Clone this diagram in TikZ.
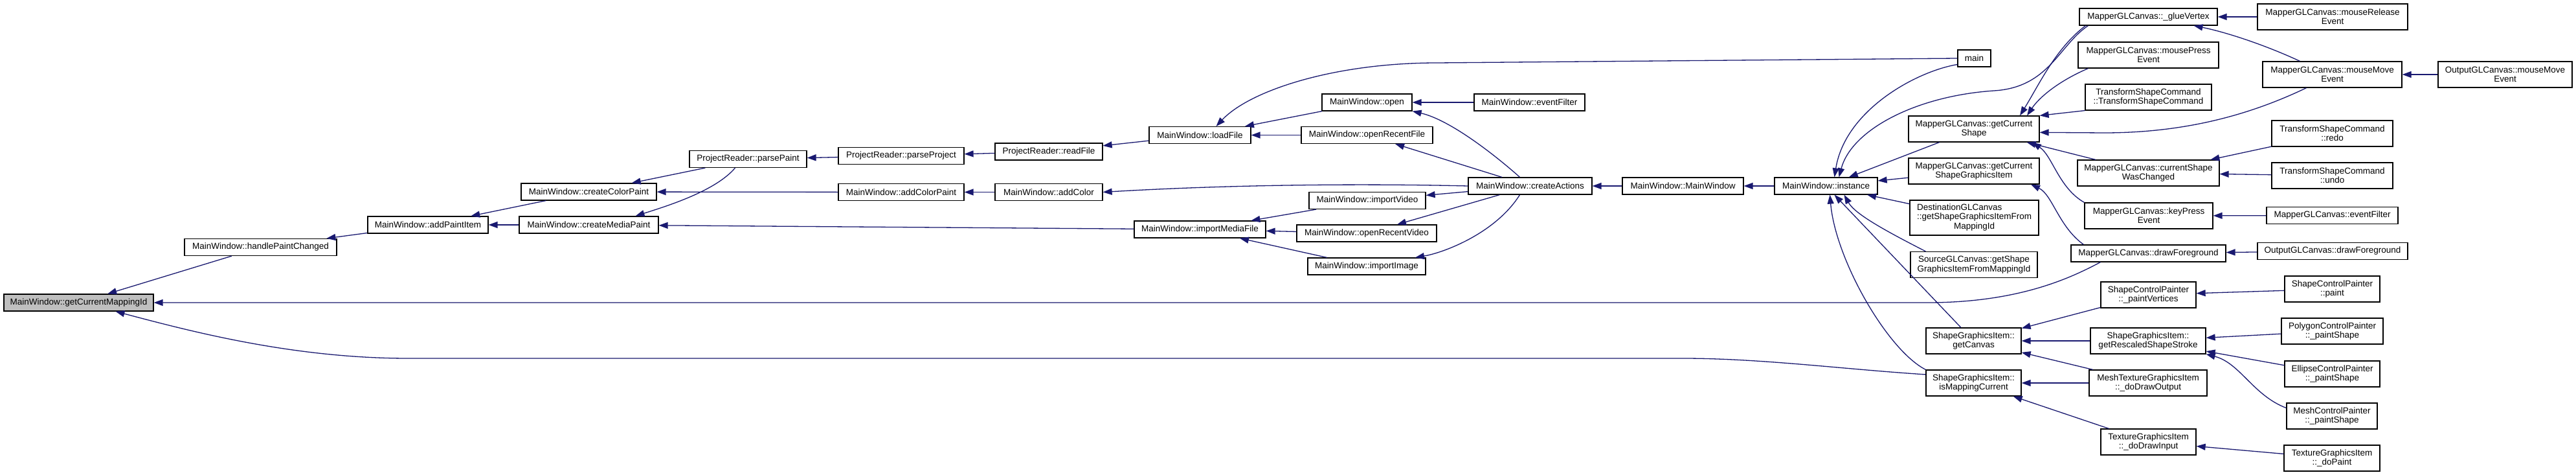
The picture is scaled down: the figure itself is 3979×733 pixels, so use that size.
\documentclass[tikz,border=0pt]{standalone}
\usepackage{fontspec}
\setmainfont{Liberation Sans}
\usetikzlibrary{arrows.meta}
\definecolor{edgeblue}{HTML}{191970}
\definecolor{focusgray}{HTML}{BFBFBF}
\begin{document}
\begin{tikzpicture}[x=1pt,y=-1pt,
  fn/.style={draw=black, fill=white, line width=1.2pt, inner sep=1pt, align=center, font=\fontsize{13.5}{14.3}\selectfont},
  one/.style={minimum height=26pt},
  two/.style={minimum height=40pt},
  call/.style={draw=edgeblue, line width=1.3pt, -{Triangle[length=14pt,width=10pt]}},
]
\fill[white] (0,0) rectangle (3979,733);
\useasboundingbox (0,0) rectangle (3979,733);

% nodes
\node[fn,one,minimum width=231pt,fill=focusgray] (gcmi) at (121.5,467) {MainWindow::getCurrentMappingId};
\node[fn,one,minimum width=235pt] (hpc) at (402.5,381.5) {MainWindow::handlePaintChanged};
\node[fn,one,minimum width=186pt] (api) at (661,347) {MainWindow::addPaintItem};
\node[fn,one,minimum width=209pt] (ccp) at (909.5,296) {MainWindow::createColorPaint};
\node[fn,one,minimum width=215pt] (cmp) at (909.5,347) {MainWindow::createMediaPaint};
\node[fn,one,minimum width=181pt] (ppaint) at (1155.5,245.5) {ProjectReader::parsePaint};
\node[fn,one,minimum width=194pt] (pproj) at (1392,240.5) {ProjectReader::parseProject};
\node[fn,one,minimum width=166pt] (rfile) at (1620,234) {ProjectReader::readFile};
\node[fn,one,minimum width=157pt] (lfile) at (1853.5,208.5) {MainWindow::loadFile};
\node[fn,one,minimum width=139pt] (open) at (2111.5,158) {MainWindow::open};
\node[fn,one,minimum width=203pt] (orf) at (2111.5,208.5) {MainWindow::openRecentFile};
\node[fn,one,minimum width=194pt] (acp) at (1392,296.5) {MainWindow::addColorPaint};
\node[fn,one,minimum width=166pt] (acol) at (1620,296.5) {MainWindow::addColor};
\node[fn,one,minimum width=180pt] (ivid) at (2112,309.5) {MainWindow::importVideo};
\node[fn,one,minimum width=203pt] (imf) at (1853.5,354) {MainWindow::importMediaFile};
\node[fn,one,minimum width=216pt] (orv) at (2111,360) {MainWindow::openRecentVideo};
\node[fn,one,minimum width=182pt] (iimg) at (2111,411) {MainWindow::importImage};
\node[fn,one,minimum width=171pt] (mwef) at (2362.5,158) {MainWindow::eventFilter};
\node[fn,one,minimum width=191pt] (cact) at (2363.5,287) {MainWindow::createActions};
\node[fn,one,minimum width=187pt] (mwmw) at (2599.5,287) {MainWindow::MainWindow};
\node[fn,one,minimum width=159pt] (inst) at (2820.5,287) {MainWindow::instance};
\node[fn,one,minimum width=51pt] (main) at (3049.5,90) {main};
\node[fn,two,minimum width=202pt] (gcs) at (3049,199) {MapperGLCanvas::getCurrent\\Shape};
\node[fn,two,minimum width=202pt] (gcsgi) at (3049,264) {MapperGLCanvas::getCurrent\\ShapeGraphicsItem};
\node[fn,minimum height=54pt,minimum width=199pt] (dgc) at (3049.5,336) {\begin{tabular}{@{}l@{}}DestinationGLCanvas\\::getShapeGraphicsItemFrom\\\multicolumn{1}{@{}c@{}}{MappingId}\end{tabular}};
\node[fn,two,minimum width=196pt] (sgc) at (3049,408.5) {SourceGLCanvas::getShape\\GraphicsItemFromMappingId};
\node[fn,two,minimum width=147pt] (gcan) at (3048.5,526) {ShapeGraphicsItem::\\getCanvas};
\node[fn,two,minimum width=147pt] (imc) at (3048.5,591) {ShapeGraphicsItem::\\isMappingCurrent};
\node[fn,one,minimum width=213pt] (glue) at (3318.5,26) {MapperGLCanvas::\_glueVertex};
\node[fn,two,minimum width=232pt] (mrel) at (3603,26) {MapperGLCanvas::mouseRelease\\Event};
\node[fn,two,minimum width=217pt] (mpress) at (3318.5,85) {MapperGLCanvas::mousePress\\Event};
\node[fn,two,minimum width=195pt] (tsc) at (3318.5,150) {TransformShapeCommand\\::TransformShapeCommand};
\node[fn,two,minimum width=215pt] (mmove) at (3602.5,115) {MapperGLCanvas::mouseMove\\Event};
\node[fn,two,minimum width=207pt] (omove) at (3869.5,115) {OutputGLCanvas::mouseMove\\Event};
\node[fn,two,minimum width=187pt] (redo) at (3602.5,206) {TransformShapeCommand\\::redo};
\node[fn,two,minimum width=219pt] (csw) at (3318.5,267) {MapperGLCanvas::currentShape\\WasChanged};
\node[fn,two,minimum width=187pt] (undo) at (3602.5,271) {TransformShapeCommand\\::undo};
\node[fn,two,minimum width=198pt] (kpress) at (3319,333) {MapperGLCanvas::keyPress\\Event};
\node[fn,one,minimum width=203pt] (mef) at (3602.5,332.5) {MapperGLCanvas::eventFilter};
\node[fn,one,minimum width=239pt] (mdf) at (3318.5,391) {MapperGLCanvas::drawForeground};
\node[fn,one,minimum width=232pt] (odf) at (3603,387.5) {OutputGLCanvas::drawForeground};
\node[fn,two,minimum width=147pt] (pv) at (3318.5,455) {ShapeControlPainter\\::\_paintVertices};
\node[fn,two,minimum width=147pt] (scp) at (3602.5,446) {ShapeControlPainter\\::paint};
\node[fn,two,minimum width=178pt] (grss) at (3318,526) {ShapeGraphicsItem::\\getRescaledShapeStroke};
\node[fn,two,minimum width=157pt] (pcp) at (3602.5,511) {PolygonControlPainter\\::\_paintShape};
\node[fn,two,minimum width=182pt] (mtdo) at (3318,591) {MeshTextureGraphicsItem\\::\_doDrawOutput};
\node[fn,two,minimum width=147pt] (ecp) at (3602.5,577) {EllipseControlPainter\\::\_paintShape};
\node[fn,two,minimum width=140pt] (mcp) at (3602,642) {MeshControlPainter\\::\_paintShape};
\node[fn,two,minimum width=147pt] (tdi) at (3318.5,682) {TextureGraphicsItem\\::\_doDrawInput};
\node[fn,two,minimum width=148pt] (tdp) at (3602,707) {TextureGraphicsItem\\::\_doPaint};

% edges (caller -> callee)
\draw[call] (hpc) -- (gcmi);
\draw[call] ([xshift=46pt]mdf.south west) .. controls (3200,428) and (3120,467) .. (2977,467) -- (gcmi.east);
\draw[call] (imc.170) .. controls (2850,570) and (2720,553) .. (2600,553) -- (631,553) .. controls (450,553) and (290,510) .. ([xshift=57pt]gcmi.south);
\draw[call] (api) -- (hpc);
\draw[call] (ccp) -- (api);
\draw[call] (cmp) -- (api);
\draw[call] (ppaint) -- (ccp);
\draw[call] ([xshift=-20pt]ppaint.south) .. controls (1105,295) and (1030,318) .. ([xshift=72pt]cmp.north);
\draw[call] (acp) -- (ccp);
\draw[call] (imf) -- (cmp);
\draw[call] (pproj) -- (ppaint);
\draw[call] (rfile) -- (pproj);
\draw[call] (lfile) -- (rfile);
\draw[call] (open) -- (lfile);
\draw[call] (orf) -- (lfile);
\draw[call] (main.west) -- (2220,97) .. controls (2060,97) and (1930,140) .. ([xshift=25pt]lfile.north);
\draw[call] (acol) -- (acp);
\draw[call] (cact.west) .. controls (2100,283) and (1900,285) .. (acol.east);
\draw[call] (ivid) -- (imf);
\draw[call] (orv) -- (imf);
\draw[call] (iimg) -- (imf);
\draw[call] (mwef) -- (open);
\draw[call] ([xshift=-16pt]cact.north) .. controls (2310,240) and (2240,185) .. (open.south east);
\draw[call] (cact) -- (orf);
\draw[call] (cact) -- (ivid);
\draw[call] (cact) -- (orv);
\draw[call] ([xshift=-16pt]cact.south) .. controls (2310,360) and (2230,390) .. ([xshift=75pt]iimg.north);
\draw[call] (mwmw) -- (cact);
\draw[call] (inst) -- (mwmw);
\draw[call] (main.200) .. controls (2960,110) and (2850,170) .. ([xshift=13pt]inst.north);
\draw[call] (gcs) -- (inst);
\draw[call] (gcsgi) -- (inst);
\draw[call] (dgc) -- (inst);
\draw[call] ([xshift=24pt]sgc.north west) .. controls (2910,355) and (2865,330) .. ([xshift=28pt]inst.south);
\draw[call] (gcan) -- (inst);
\draw[call] (imc.north west) .. controls (2915,540) and (2835,400) .. ([xshift=6pt]inst.south);
\draw[call] ([xshift=14pt]glue.south west) .. controls (3180,70) and (3165,135) .. (3080,140) .. controls (2960,148) and (2860,200) .. ([xshift=20pt]inst.north);
\draw[call] ([xshift=10pt]glue.south west) .. controls (3175,75) and (3150,130) .. ([xshift=71pt]gcs.north);
\draw[call] ([xshift=16pt]mpress.south west) .. controls (3180,125) and (3150,150) .. ([xshift=82pt]gcs.north);
\draw[call] (tsc.south west) -- (gcs.north east);
\draw[call] ([xshift=-40pt]mmove.south) .. controls (3480,175) and (3380,205) .. (3250,205) -- (gcs.-3);
\draw[call] (csw) -- (gcs);
\draw[call] (kpress.north west) .. controls (3180,290) and (3170,240) .. ([xshift=90pt]gcs.south);
\draw[call] ([xshift=20pt]mdf.north west) .. controls (3180,350) and (3170,300) .. ([xshift=88pt]gcsgi.south);
\draw[call] (mrel) -- (glue);
\draw[call] ([xshift=-50pt]mmove.north) .. controls (3500,70) and (3440,50) .. ([xshift=70pt]glue.south);
\draw[call] (omove) -- (mmove);
\draw[call] (redo) -- (csw);
\draw[call] (undo) -- (csw);
\draw[call] (mef) -- (kpress);
\draw[call] (odf) -- (mdf);
\draw[call] (pv) -- (gcan);
\draw[call] (grss) -- (gcan);
\draw[call] (mtdo) -- (gcan);
\draw[call] (mtdo) -- (imc);
\draw[call] (tdi) -- (imc);
\draw[call] (scp) -- (pv);
\draw[call] (pcp) -- (grss);
\draw[call] (ecp) -- (grss);
\draw[call] (mcp.170) .. controls (3480,610) and (3460,560) .. (grss.south east);
\draw[call] (tdp) -- (tdi);
\end{tikzpicture}
\end{document}
